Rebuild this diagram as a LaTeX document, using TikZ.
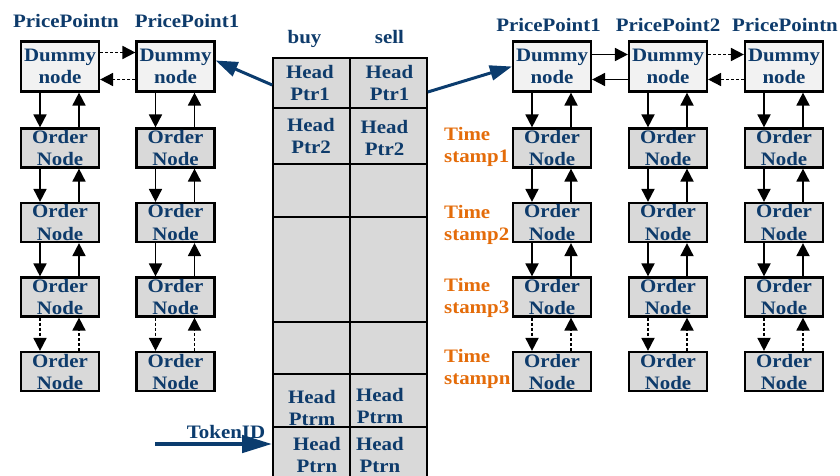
\documentclass[tikz,border=0pt]{standalone}
\usepackage{fontspec}
\setmainfont{Liberation Serif}[FakeStretch=1.1]
\usetikzlibrary{arrows.meta,positioning}
\definecolor{NodeNavy}{HTML}{0E3B6B}
\definecolor{PtrBlue}{HTML}{0B3C6E}
\definecolor{StampOrange}{HTML}{E46C0A}
\definecolor{DummyBg}{HTML}{F2F2F2}
\definecolor{OrderBg}{HTML}{D9D9D9}

\begin{document}
\begin{tikzpicture}[x=1pt,y=-1pt,
    font=\fontsize{19}{22}\selectfont\bfseries,
    dummybox/.style={draw=black,line width=2.2pt,fill=DummyBg,minimum width=78pt,minimum height=50pt,inner sep=0pt,align=center,text=NodeNavy},
    orderbox/.style={dummybox,fill=OrderBg,minimum height=39pt},
    cellbox/.style={draw=black,line width=1.6pt,fill=OrderBg,minimum width=77pt,inner sep=0pt},
    celltext/.style={align=center,text=NodeNavy,inner sep=0pt},
    heading/.style={anchor=base,text=NodeNavy,inner sep=0pt},
    stamp/.style={anchor=west,align=left,text=StampOrange,inner sep=0pt},
    link/.style={-{Triangle[length=13pt,width=13pt]},line width=1.8pt},
    dotlink/.style={link,densely dashed},
    ptr/.style={-{Triangle[length=22pt,width=15pt]},line width=3pt,draw=PtrBlue,fill=PtrBlue},
    tokptr/.style={-{Triangle[length=30pt,width=17pt]},line width=4.5pt,draw=PtrBlue,fill=PtrBlue}]
  \clip (0,0) rectangle (840,476);
  \foreach \c/\x in {ln/60,l1/175.5,r1/552,r2/668,rn/784} {
    \node[dummybox] (\c-0) at (\x,66.5) {Dummy\\node};
    \foreach \r/\y in {1/148,2/222.5,3/297,4/371.5}
      \node[orderbox] (\c-\r) at (\x,\y) {Order\\Node};
  }
  \foreach \c/\x/\y/\t in {ln/66/28/PricePointn,l1/187/28/PricePoint1,r1/548.5/32/PricePoint1,r2/668/32/PricePoint2,rn/785/32/PricePointn}
    \node[heading] (\c-lbl) at (\x,\y) {\t};
  \foreach \c in {ln,l1,r1,r2,rn} {
    \foreach \a/\b/\s in {0/1/link,1/2/link,2/3/link,3/4/dotlink} {
      \draw[\s] ([xshift=-20pt]\c-\a.south) -- ([xshift=-20pt]\c-\b.north);
      \draw[\s] ([xshift=19pt]\c-\b.north) -- ([xshift=19pt]\c-\a.south);
    }
  }
  \draw[dotlink] ([yshift=14pt]ln-0.east) -- ([yshift=14pt]l1-0.west);
  \draw[dotlink] ([yshift=-13pt]l1-0.west) -- ([yshift=-13pt]ln-0.east);
  \draw[link] ([yshift=12pt]r1-0.east) -- ([yshift=12pt]r2-0.west);
  \draw[link] ([yshift=-13pt]r2-0.west) -- ([yshift=-13pt]r1-0.east);
  \draw[dotlink] ([yshift=12pt]r2-0.east) -- ([yshift=12pt]rn-0.west);
  \draw[dotlink] ([yshift=-13pt]rn-0.west) -- ([yshift=-13pt]r2-0.east);
  \foreach \r/\y/\s in {1/147/1,2/225/2,3/298/3,4/369/n}
    \node[stamp] (ts\r) at (444,\y) {Time\\stamp\s};
  \foreach \r/\y/\h in {1/83/50,2/136/56,3/190.5/53,4/269.5/105,5/348/52,6/400.5/53,7/454.5/55} {
    \node[cellbox,minimum height=\h pt] (buy\r) at (311.5,\y) {};
    \node[cellbox,minimum height=\h pt] (sell\r) at (388.5,\y) {};
  }
  \node[heading] (buylbl) at (304.5,44) {buy};
  \node[heading] (selllbl) at (389.5,44) {sell};
  \foreach \n/\x/\y/\t in {b1/310/83/Ptr1,b2/311/136.5/Ptr2,bm/312/408/Ptrm,bn/317/454.5/Ptrn,
                           s1/389.5/83/Ptr1,s2/384.5/138/Ptr2,sm/380/406/Ptrm,sn/380/454.5/Ptrn}
    \node[celltext] (\n-txt) at (\x,\y) {Head\\\t};
  \draw[ptr] ([yshift=-2pt]buy1.west) -- ([yshift=6pt]l1-0.east);
  \draw[ptr] ([yshift=-9pt]sell1.east) -- (r1-0.west);
  \coordinate (tokstart) at (155,444);
  \draw[tokptr] (tokstart) -- (tokstart -| buy7.west);
  \node[heading,text=PtrBlue] (tokenlbl) at (226,438) {TokenID};
\end{tikzpicture}
\end{document}
